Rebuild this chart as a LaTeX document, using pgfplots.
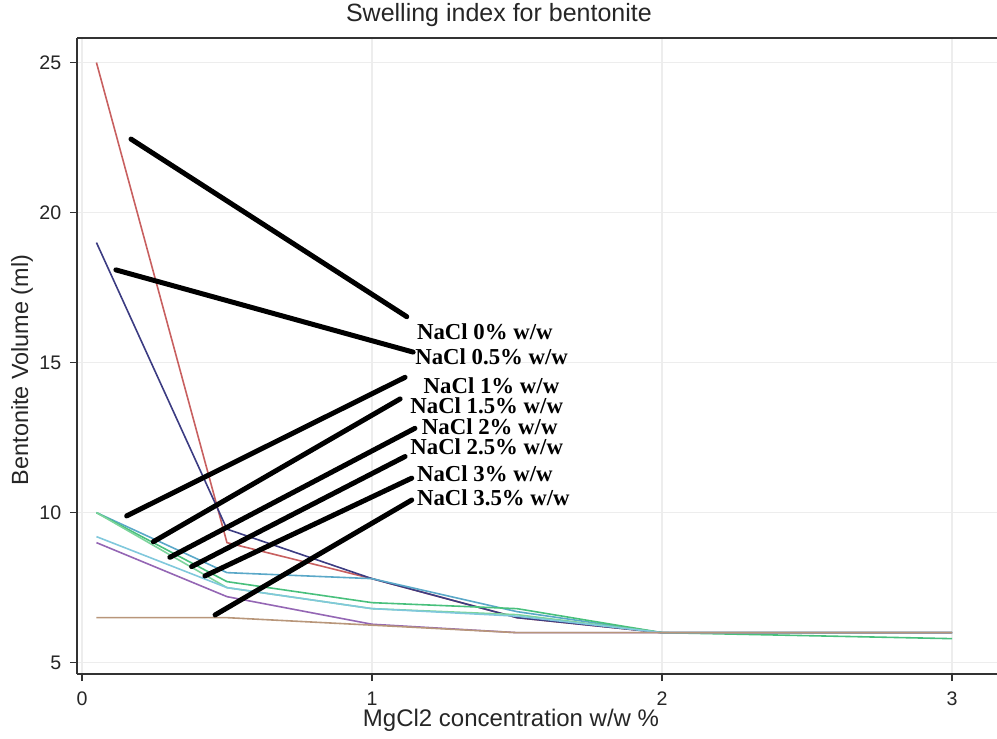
\documentclass[border=0pt]{standalone}
\usepackage{fontspec}
\setmainfont{Liberation Sans}
\newfontfamily\annotfont{Liberation Serif}
\usepackage{pgfplots}
\pgfplotsset{compat=1.18}

% series colours
\definecolor{cRed}{HTML}{C86060}
\definecolor{cNavy}{HTML}{3C3C82}
\definecolor{cTeal}{HTML}{5AA8C8}
\definecolor{cGreen}{HTML}{48C07C}
\definecolor{cLGreen}{HTML}{7CD49C}
\definecolor{cCyan}{HTML}{80C8DC}
\definecolor{cPurple}{HTML}{9466B4}
\definecolor{cTan}{HTML}{B8967A}

\begin{document}
\begin{tikzpicture}
\begin{axis}[
  scale only axis,
  width=459.8pt, height=318pt,
  xmin=-0.0162, xmax=3.155,
  ymin=4.62, ymax=25.82,
  axis y line*=left,
  xtick={0,1,2,3},
  ytick={5,10,15,20,25},
  xtick pos=bottom,
  tick align=outside,
  major tick length=3.5pt,
  grid=major,
  grid style={black!7, line width=0.6pt},
  axis line style={line width=1pt, black!80},
  every tick/.style={black!80, line width=0.8pt},
  ticklabel style={font=\fontsize{9.8}{11}\selectfont, text=black!85},
  xticklabel style={yshift=-2pt},
  yticklabel style={xshift=-1pt},
  /pgf/number format/assume math mode=true,
  title={Swelling index for bentonite},
  title style={at={(0.4585,1.036)}, anchor=center, yshift=-6pt, font=\fontsize{12.5}{14}\selectfont, text=black!85},
  xlabel={MgCl2 concentration w/w \%},
  xlabel style={at={(0.4716,-0.0725)}, anchor=center, font=\fontsize{12}{14}\selectfont, text=black!85},
  ylabel={Bentonite Volume (ml)},
  ylabel style={at={(-0.0601,0.478)}, anchor=center, rotate=0, font=\fontsize{11.7}{14}\selectfont, text=black!85},
  every axis plot/.append style={line width=0.8pt, mark=none},
  clip=false,
]
% NaCl 0% w/w
\addplot[cRed] coordinates {(0.05,25) (0.5,9) (1,7.8) (1.5,6.5) (2,6) (3,6)};
% NaCl 0.5% w/w
\addplot[cNavy] coordinates {(0.05,19) (0.5,9.45) (1,7.8) (1.5,6.5) (2,6) (3,6)};
% NaCl 1% w/w
\addplot[cTeal] coordinates {(0.05,10) (0.5,8) (1,7.8) (1.5,6.7) (2,6) (3,6)};
% NaCl 1.5% w/w
\addplot[cGreen] coordinates {(0.05,10) (0.5,7.7) (1,7.0) (1.5,6.8) (2,6) (3,5.8)};
% NaCl 2% w/w
\addplot[cLGreen] coordinates {(0.05,10) (0.5,7.5) (1,6.8) (1.5,6.6) (2,6) (3,6)};
% NaCl 2.5% w/w
\addplot[cCyan] coordinates {(0.05,9.2) (0.5,7.5) (1,6.8) (1.5,6.55) (2,6) (3,6)};
% NaCl 3% w/w
\addplot[cPurple] coordinates {(0.05,9) (0.5,7.2) (1,6.28) (1.5,6) (2,6) (3,6)};
% NaCl 3.5% w/w
\addplot[cTan] coordinates {(0.05,6.5) (0.5,6.5) (1,6.25) (1.5,6) (2,6) (3,6)};

% leader lines from the series to their labels
\begin{scope}[line width=2.5pt, black, line cap=round]
  \draw (axis cs:0.169,22.45) -- (axis cs:1.12,16.53);
  \draw (axis cs:0.117,18.09) -- (axis cs:1.142,15.35);
  \draw (axis cs:0.154,9.89) -- (axis cs:1.114,14.51);
  \draw (axis cs:0.246,9.03) -- (axis cs:1.097,13.79);
  \draw (axis cs:0.303,8.51) -- (axis cs:1.148,12.81);
  \draw (axis cs:0.378,8.2) -- (axis cs:1.114,11.87);
  \draw (axis cs:0.424,7.89) -- (axis cs:1.137,11.15);
  \draw (axis cs:0.459,6.59) -- (axis cs:1.137,10.42);
\end{scope}

% series labels
\begin{scope}[every node/.style={anchor=west, inner sep=0pt, font=\annotfont\bfseries\fontsize{11.4}{12}\selectfont}]
  \node at (axis cs:1.154,16.03) {NaCl 0\% w/w};
  \node at (axis cs:1.148,15.18) {NaCl 0.5\% w/w};
  \node at (axis cs:1.177,14.22) {NaCl 1\% w/w};
  \node at (axis cs:1.131,13.56) {NaCl 1.5\% w/w};
  \node at (axis cs:1.171,12.87) {NaCl 2\% w/w};
  \node at (axis cs:1.131,12.2) {NaCl 2.5\% w/w};
  \node at (axis cs:1.154,11.31) {NaCl 3\% w/w};
  \node at (axis cs:1.154,10.48) {NaCl 3.5\% w/w};
\end{scope}

\coordinate (bbLL) at (rel axis cs:-0.084,-0.1006);
\coordinate (bbUR) at (rel axis cs:1,1.0597);
\end{axis}
\pgfresetboundingbox
\path[use as bounding box] (bbLL) rectangle (bbUR);
\end{tikzpicture}
\end{document}
